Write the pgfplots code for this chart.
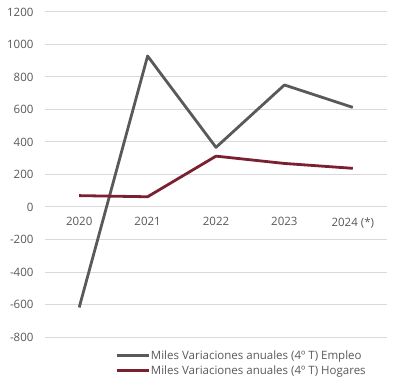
\documentclass[border=0pt]{standalone}
\usepackage{pgfplots}
\pgfplotsset{compat=1.18}
\usepackage{fontspec}
\setmainfont{Open Sans}
\definecolor{empleo}{HTML}{595959}
\definecolor{hogares}{HTML}{7B2030}
\definecolor{gridc}{HTML}{D9D9D9}
\definecolor{txt}{HTML}{595959}
\begin{document}
\begin{tikzpicture}
\begin{axis}[
  name=ax,
  scale only axis,
  width=342pt, height=325pt,
  xmin=-0.5, xmax=4.5,
  ymin=-800, ymax=1200,
  ytick={-800,-600,...,1200},
  xtick={0,1,2,3,4},
  xticklabels={2020,2021,2022,2023,2024 (*)},
  axis x line=middle,
  axis y line=left,
  axis line style={draw=none},
  major tick length=0pt,
  ymajorgrids,
  grid style={gridc, line width=1pt},
  tick label style={font=\fontsize{11.5}{13}\selectfont, text=txt},
  /pgf/number format/assume math mode=true,
  /pgf/number format/1000 sep={},
  yticklabel style={xshift=-8pt},
  xticklabel style={yshift=-7pt},
  legend style={at={(axis description cs:0.95,-0.03)}, anchor=north east, draw=none, fill=none,
    font=\fontsize{11.5}{13}\selectfont, text=txt, row sep=2pt,
    nodes={inner xsep=1pt, inner ysep=1.5pt}},
  legend cell align=left,
  legend image code/.code={\draw[#1] (0pt,0pt) -- (32pt,0pt);},
  clip=false,
]
\addplot[empleo, line width=2.8pt, line join=round] coordinates {(0,-618) (1,929) (2,367) (3,751) (4,613)};
\addlegendentry{Miles Variaciones anuales (4º T) Empleo}
\addplot[hogares, line width=2.8pt, line join=round] coordinates {(0,70) (1,63) (2,313) (3,268) (4,238)};
\addlegendentry{Miles Variaciones anuales (4º T) Hogares}
\end{axis}
\pgfresetboundingbox
\useasboundingbox ([shift={(-45pt,-51pt)}]ax.south west) rectangle ([shift={(6pt,12pt)}]ax.north east);
\end{tikzpicture}
\end{document}
